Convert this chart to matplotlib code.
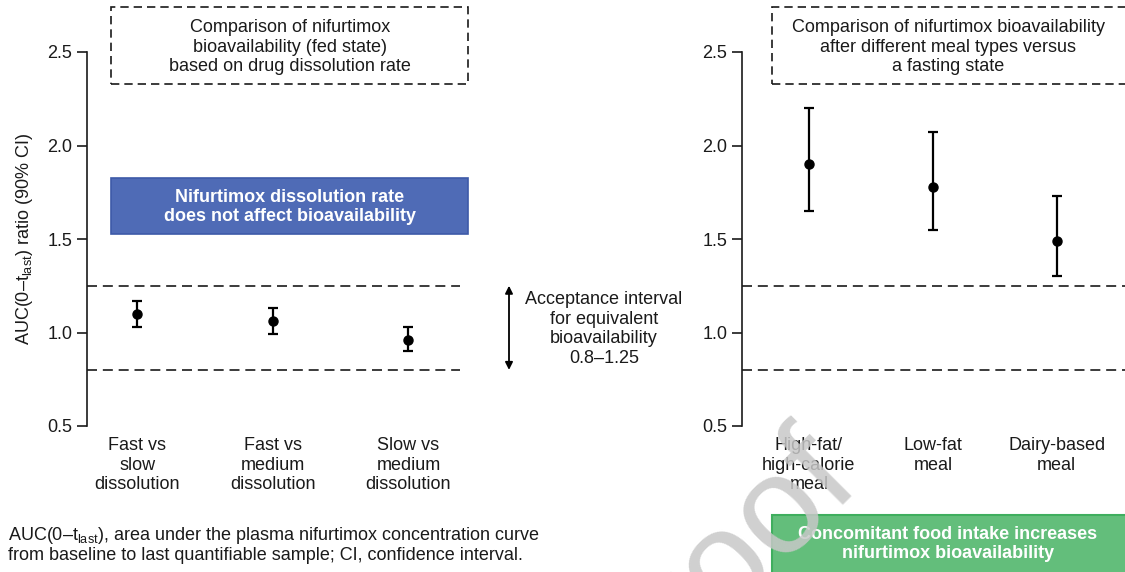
import matplotlib
matplotlib.use("Agg")
import matplotlib.pyplot as plt
from matplotlib.patches import Rectangle

plt.rcParams['font.family'] = ['Liberation Sans', 'DejaVu Sans']
plt.rcParams['mathtext.fontset'] = 'custom'
plt.rcParams['mathtext.rm'] = 'Liberation Sans'

# ---- data -------------------------------------------------------------
dissolution_labels = ["Fast vs\nslow\ndissolution",
                      "Fast vs\nmedium\ndissolution",
                      "Slow vs\nmedium\ndissolution"]
dissolution_ratio = [1.10, 1.06, 0.96]
dissolution_lo = [1.03, 0.99, 0.90]
dissolution_hi = [1.17, 1.13, 1.03]

meal_labels = ["High-fat/\nhigh-calorie\nmeal", "Low-fat\nmeal", "Dairy-based\nmeal"]
meal_ratio = [1.90, 1.78, 1.49]
meal_lo = [1.65, 1.55, 1.30]
meal_hi = [2.20, 2.07, 1.73]

acceptance = [0.8, 1.25]
y_ticks = [0.5, 1.0, 1.5, 2.0, 2.5]
y_tick_labels = ["0.5", "1.0", "1.5", "2.0", "2.5"]

# ---- figure -----------------------------------------------------------
W, H = 1125, 572
fig = plt.figure(figsize=(W / 100, H / 100), dpi=100)
fig.patch.set_facecolor("white")
TXT = "#1a1a1a"
FS = 13


def fx(px):
    return px / W


def fy(py):
    return 1 - py / H


def make_axes(left_px, right_px):
    top_px, bot_px = 52, 426
    ax = fig.add_axes([fx(left_px), fy(bot_px), (right_px - left_px) / W, (bot_px - top_px) / H])
    ax.set_ylim(0.5, 2.5)
    for s in ("top", "right", "bottom"):
        ax.spines[s].set_visible(False)
    ax.spines["left"].set_linewidth(1.2)
    ax.spines["left"].set_color(TXT)
    ax.set_yticks(y_ticks, y_tick_labels)
    ax.tick_params(axis="y", length=7, width=1.2, pad=3.5, labelsize=FS, colors=TXT)
    ax.tick_params(axis="x", length=0, pad=8, labelsize=FS, labelcolor=TXT)
    ax.patch.set_alpha(0)
    return ax


def draw_panel(ax, labels, ratio, lo, hi):
    x = list(range(len(ratio)))
    for y in acceptance:
        ax.axhline(y, color=TXT, lw=1.2, ls=(0, (6, 3.5)), zorder=1)
    yerr = [[r - l for r, l in zip(ratio, lo)], [h - r for r, h in zip(ratio, hi)]]
    ax.errorbar(x, ratio, yerr=yerr, fmt="o", color="black", ms=6.5,
                elinewidth=1.6, capsize=3.6, capthick=1.6, zorder=3, clip_on=False)
    ax.set_xticks(x, labels)
    for t in ax.get_xticklabels():
        t.set_linespacing(1.2)


ax1 = make_axes(87, 460)
ax1.set_xlim(-0.37, 2.38)
draw_panel(ax1, dissolution_labels, dissolution_ratio, dissolution_lo, dissolution_hi)
ax1.set_ylabel(r"AUC(0–t$_{\mathregular{last}}$) ratio (90% CI)", fontsize=FS, color=TXT)
ax1.yaxis.set_label_coords(-0.140, 0.5)

ax2 = make_axes(742, 1125)
ax2.set_xlim(-0.54, 2.55)
draw_panel(ax2, meal_labels, meal_ratio, meal_lo, meal_hi)


# ---- annotation boxes -------------------------------------------------
def box(x0, y0, x1, y1, **kw):
    r = Rectangle((fx(x0), fy(y1)), fx(x1) - fx(x0), fy(y0) - fy(y1),
                  transform=fig.transFigure, **kw)
    fig.add_artist(r)


box(111, 7, 468, 84, facecolor="none", edgecolor=TXT, lw=1.2, ls=(0, (5, 3)))
fig.text(fx(290), fy(47), "Comparison of nifurtimox\nbioavailability (fed state)\nbased on drug dissolution rate",
         ha="center", va="center", fontsize=FS, color=TXT, linespacing=1.18)

box(772, 7, 1135, 84, facecolor="none", edgecolor=TXT, lw=1.2, ls=(0, (5, 3)))
fig.text(fx(948), fy(47), "Comparison of nifurtimox bioavailability\nafter different meal types versus\na fasting state",
         ha="center", va="center", fontsize=FS, color=TXT, linespacing=1.18)

box(111, 178, 468, 234, facecolor="#4f6bb6", edgecolor="#3d5aa8", lw=1.2)
fig.text(fx(290), fy(207), "Nifurtimox dissolution rate\ndoes not affect bioavailability",
         ha="center", va="center", fontsize=FS, color="white", fontweight="bold", linespacing=1.2)

box(772, 515, 1135, 575, facecolor="#63be7b", edgecolor="#3fae5e", lw=1.5)
fig.text(fx(948), fy(544), "Concomitant food intake increases\nnifurtimox bioavailability",
         ha="center", va="center", fontsize=FS, color="white", fontweight="bold", linespacing=1.2)

# acceptance interval arrow and note
ax1.annotate("", xy=(fx(509), acceptance[1]), xytext=(fx(509), acceptance[0]),
             xycoords=(fig.transFigure, ax1.transData), textcoords=(fig.transFigure, ax1.transData),
             arrowprops=dict(arrowstyle="<|-|>", color="black", lw=1.3, mutation_scale=11,
                             shrinkA=0, shrinkB=0), annotation_clip=False)
fig.text(fx(604), fy(329), "Acceptance interval\nfor equivalent\nbioavailability\n0.8–1.25",
         ha="center", va="center", fontsize=FS, color=TXT, linespacing=1.2)

# footnote
fig.text(fx(8), fy(535), r"AUC(0–t$_{\mathregular{last}}$), area under the plasma nifurtimox concentration curve",
         ha="left", va="center", fontsize=FS, color=TXT)
fig.text(fx(8), fy(556), "from baseline to last quantifiable sample; CI, confidence interval.",
         ha="left", va="center", fontsize=FS, color=TXT)

# watermark
fig.text(fx(860), fy(478), "Proof", ha="right", va="baseline", rotation=45,
         rotation_mode="anchor", fontsize=100, color="#c8c8c8", alpha=0.85, zorder=10)

fig.savefig("out.png", dpi=100, facecolor="white")
